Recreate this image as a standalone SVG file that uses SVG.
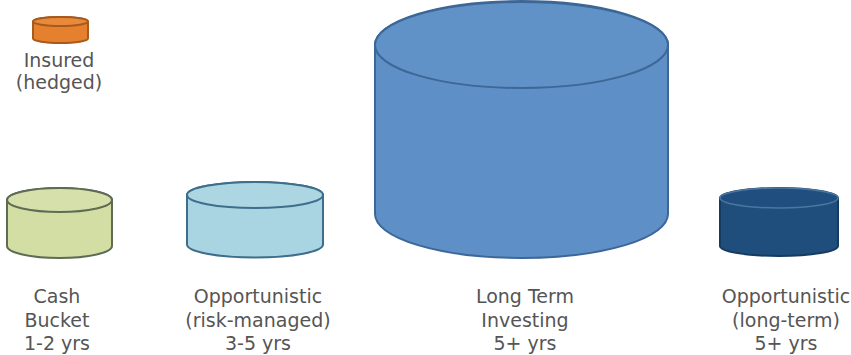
<svg xmlns="http://www.w3.org/2000/svg" width="851" height="355" viewBox="0 0 851 355">
<style>
.lbl{font-family:"DejaVu Sans","Liberation Sans",sans-serif;font-size:19px;fill:#555555;text-anchor:middle}
.cyl{stroke-width:2}
</style>
<rect width="851" height="355" fill="#ffffff"/>
<g id="insured">
<path class="cyl" d="M33,21.5 L33,38.5 A27.5,4.5 0 0 0 88,38.5 L88,21.5 A27.5,4.5 0 0 0 33,21.5 Z" fill="#E4802E" stroke="#A65A1E"/>
<ellipse class="cyl" cx="60.5" cy="21.5" rx="27.5" ry="4.5" fill="#E88A3A" stroke="#A65A1E"/>
<text class="lbl" x="59" y="66.5">Insured</text>
<text class="lbl" x="59" y="89">(hedged)</text>
</g>
<g id="cash">
<path class="cyl" d="M7,200 L7,246 A52.5,12 0 0 0 112,246 L112,200 A52.5,12 0 0 0 7,200 Z" fill="#D3DEA5" stroke="#5E6B55"/>
<ellipse class="cyl" cx="59.5" cy="200" rx="52.5" ry="12" fill="#D6E0AB" stroke="#5E6B55"/>
<text class="lbl" x="57" y="303">Cash</text>
<text class="lbl" x="57" y="326.5">Bucket</text>
<text class="lbl" x="57" y="350">1-2 yrs</text>
</g>
<g id="risk">
<path class="cyl" d="M187,195 L187,244.5 A68,13 0 0 0 323,244.5 L323,195 A68,13 0 0 0 187,195 Z" fill="#A9D4E2" stroke="#3E6E8C"/>
<ellipse class="cyl" cx="255" cy="195" rx="68" ry="13" fill="#ADD6E3" stroke="#3E6E8C"/>
<text class="lbl" x="258" y="303">Opportunistic</text>
<text class="lbl" x="258" y="326.5">(risk-managed)</text>
<text class="lbl" x="258" y="350">3-5 yrs</text>
</g>
<g id="longterm">
<path class="cyl" d="M375,45 L375,214 A146.5,44 0 0 0 668,214 L668,45 A146.5,44 0 0 0 375,45 Z" fill="#5E8FC6" stroke="#3C6797"/>
<ellipse class="cyl" cx="521.5" cy="45" rx="146.5" ry="43" fill="#6092C8" stroke="#3C6797"/>
<text class="lbl" x="525" y="303">Long Term</text>
<text class="lbl" x="525" y="326.5">Investing</text>
<text class="lbl" x="525" y="350">5+ yrs</text>
</g>
<g id="opplong">
<path class="cyl" d="M720,198 L720,246 A59,10 0 0 0 838,246 L838,198 A59,10 0 0 0 720,198 Z" fill="#1F4D7C" stroke="#173B60"/>
<ellipse cx="779" cy="198" rx="59" ry="10" fill="#204F7F" stroke="#4C76A2" stroke-width="1.5"/>
<text class="lbl" x="786" y="303">Opportunistic</text>
<text class="lbl" x="786" y="326.5">(long-term)</text>
<text class="lbl" x="786" y="350">5+ yrs</text>
</g>
<g id="connectors"/>
</svg>
